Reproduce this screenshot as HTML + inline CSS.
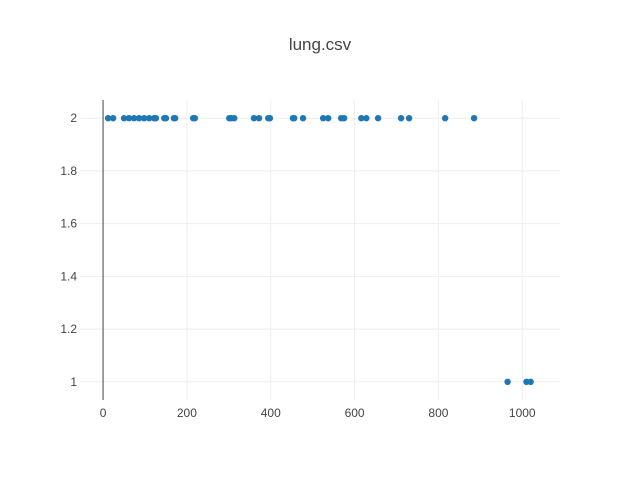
<!DOCTYPE html>
<html><head><meta charset="utf-8"><style>
body{margin:0;background:#fff;font-family:"Liberation Sans",sans-serif}
</style></head><body>
<svg width="640" height="480" xmlns="http://www.w3.org/2000/svg">
<rect width="640" height="480" fill="#fff"/>
<text x="320" y="50" text-anchor="middle" font-size="17" fill="#444">lung.csv</text>
<g id="grid"></g><g id="pts"></g><g id="ticks"></g>
</svg>
<script>
const xTicks=[0,200,400,600,800,1000];
const yTicks=[1,1.2,1.4,1.6,1.8,2];
const xVals=[12,24,50,62,74,86,98,110,122,126,146,150,169,172,215,219,301,306,313,360,372,394,398,453,456,477,525,537,568,575,616,628,656,711,730,816,885,965,1010,1020];
const yVals=[2,2,2,2,2,2,2,2,2,2,2,2,2,2,2,2,2,2,2,2,2,2,2,2,2,2,2,2,2,2,2,2,2,2,2,2,2,1,1,1];
const L=80,R=560,T=100,B=400;
const x0=-55,x1=1090,y0=0.931,y1=2.069;
const X=v=>L+(v-x0)/(x1-x0)*(R-L);
const Y=v=>B-(v-y0)/(y1-y0)*(B-T);
const ns="http://www.w3.org/2000/svg";
const grid=document.getElementById('grid'),pts=document.getElementById('pts'),tk=document.getElementById('ticks');
function mk(tag,a,p){const e=document.createElementNS(ns,tag);for(const k in a)e.setAttribute(k,a[k]);p.appendChild(e);return e;}
xTicks.forEach(t=>{
 if(t!==0){const l=mk('line',{x1:X(t),x2:X(t),y1:T,y2:B,stroke:'#eee'},grid);
 
 }
 const s=mk('text',{x:X(t),y:B+17,'text-anchor':'middle','font-size':12,fill:'#444'},tk);s.textContent=t;
 
 
});
yTicks.forEach(t=>{
 const l=mk('line',{x1:L,x2:R,y1:Y(t),y2:Y(t),stroke:'#eee'},grid);
 
 
 const s=mk('text',{x:L-3,y:Y(t)+4,'text-anchor':'end','font-size':12,fill:'#444'},tk);s.textContent=String(t);
 
 
});
const zl=mk('line',{x1:X(0),x2:X(0),y1:T,y2:B,stroke:'#444','stroke-width':1},grid);


xVals.forEach((v,i)=>{
 const c=mk('circle',{cx:X(v),cy:Y(yVals[i]),r:3.2,fill:'#1f77b4'},pts);
 
 
});
</script>
</body></html>
